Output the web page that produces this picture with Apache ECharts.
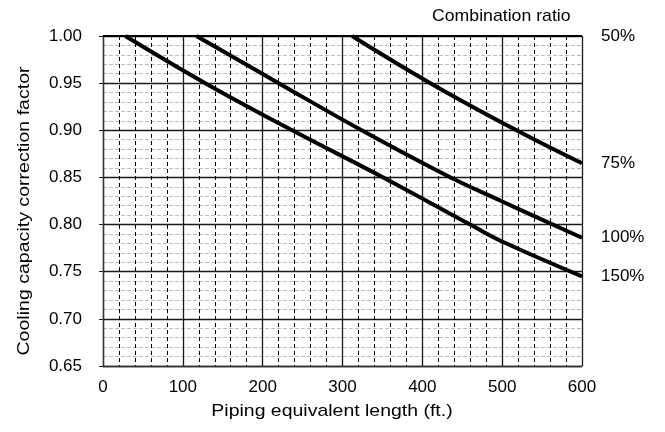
<!DOCTYPE html>
<html>
<head>
<meta charset="utf-8">
<script src="https://cdn.jsdelivr.net/npm/echarts@6/dist/echarts.min.js"></script>
<style>
  html, body { margin: 0; padding: 0; background: #fff; }
  #chart { width: 665px; height: 432px; }
</style>
</head>
<body>
<div id="chart"></div>
<script>
// Combination ratio curves: [piping equivalent length (ft.), correction factor]
const ratio50 = [[0, 1.00], [600, 1.00]];
const ratio75 = [[312, 1.00], [410, 0.95], [518, 0.90], [600, 0.865]];
const ratio100 = [[117, 1.00], [220, 0.95], [324, 0.90], [433, 0.851], [500, 0.8245], [600, 0.786]];
const ratio150 = [[28, 1.00], [128, 0.95], [237, 0.90], [351, 0.85], [460, 0.80], [500, 0.782], [600, 0.745]];

const seriesNames = ['50%', '75%', '100%', '150%'];
const seriesData = [ratio50, ratio75, ratio100, ratio150];

const xTitle = 'Piping equivalent length (ft.)';
const yTitle = 'Cooling capacity correction factor';
const legendTitle = 'Combination ratio';

const xMin = 0, xMax = 600, xStep = 100;
const yMin = 0.65, yMax = 1.00, yStep = 0.05;

const FONT = 'Liberation Sans, Arial, sans-serif';

const chart = echarts.init(document.getElementById('chart'));

chart.setOption({
  animation: false,
  backgroundColor: '#fff',
  grid: { left: 103, right: 83, top: 36, bottom: 66, show: false },
  graphic: [
    {
      type: 'text',
      x: 432, y: 16,
      scaleX: 1.04,
      style: { text: legendTitle, font: '17px ' + FONT, fill: '#000', textAlign: 'left', textVerticalAlign: 'middle' }
    },
    {
      type: 'text',
      x: 332, y: 411,
      scaleX: 1.145,
      style: { text: xTitle, font: '17px ' + FONT, fill: '#000', textAlign: 'center', textVerticalAlign: 'middle' }
    },
    {
      type: 'text',
      x: 24, y: 211,
      rotation: Math.PI / 2,
      scaleX: 1.15,
      style: { text: yTitle, font: '17px ' + FONT, fill: '#000', textAlign: 'center', textVerticalAlign: 'middle' }
    }
  ],
  xAxis: {
    type: 'value',
    min: xMin, max: xMax, interval: xStep,
    axisLine: { show: true, lineStyle: { color: '#333', width: 1.3 } },
    axisTick: { show: false },
    axisLabel: { fontFamily: FONT, fontSize: 17, color: '#000', margin: 13 },
    splitLine: { show: true, lineStyle: { color: '#1a1a1a', width: 1.3 } },
    minorTick: { show: false, splitNumber: 5 },
    minorSplitLine: { show: true, lineStyle: { color: '#000', width: 1, type: [4, 3] } }
  },
  yAxis: {
    type: 'value',
    min: yMin, max: yMax, interval: yStep,
    axisLine: { show: true, lineStyle: { color: '#333', width: 1.3 } },
    axisTick: { show: true, length: 4, lineStyle: { color: '#1a1a1a' } },
    axisLabel: {
      fontFamily: FONT, fontSize: 17, color: '#000', margin: 21,
      formatter: v => v.toFixed(2)
    },
    splitLine: { show: true, lineStyle: { color: '#1a1a1a', width: 1.3 } },
    minorTick: { show: false, splitNumber: 5 },
    minorSplitLine: { show: true, lineStyle: { color: '#bdbdbd', width: 1, type: [4, 2] } }
  },
  series: seriesNames.map((name, i) => ({
    type: 'line',
    name: name,
    data: seriesData[i],
    smooth: i === 0 ? false : 0.4,
    showSymbol: false,
    symbol: 'none',
    clip: true,
    z: i === 0 ? 3 : 4,
    lineStyle: { color: '#000', width: i === 0 ? 2 : 4, cap: 'butt' },
    endLabel: {
      show: true,
      formatter: name,
      distance: 19,
      fontFamily: FONT,
      fontSize: 17,
      color: '#000'
    }
  }))
});
</script>
</body>
</html>
